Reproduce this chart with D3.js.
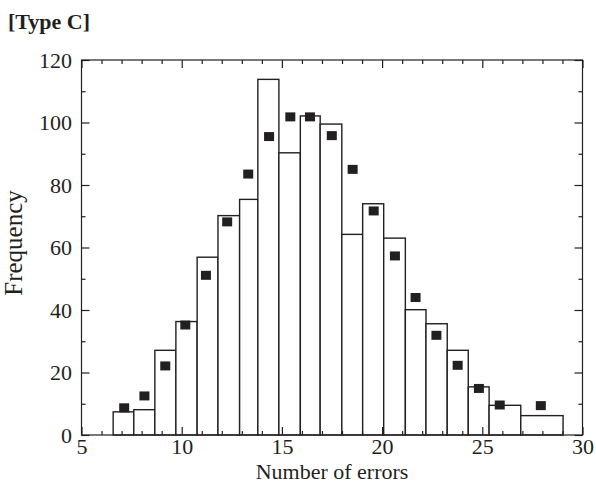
<!DOCTYPE html>
<html>
<head>
<meta charset="utf-8">
<script src="https://cdn.jsdelivr.net/npm/d3@7"></script>
<style>
  body { margin: 0; background: #fff; }
  svg text { font-family: "Liberation Serif", "Times New Roman", serif; fill: #231f20; }
  .axis path { display: none; }
  .axis line { stroke: #231f20; stroke-width: 1.2; }
  .axis text { font-size: 22px; }
</style>
</head>
<body>
<svg id="chart" width="596" height="495"></svg>
<script>
// histogram bin edges (number of errors) and counts
const binEdges = [6.58, 7.61, 8.66, 9.71, 10.77, 11.81, 12.89, 13.80, 14.85, 15.92, 16.91,
                  17.99, 19.03, 20.08, 21.16, 22.19, 23.25, 24.30, 25.34, 26.92, 29.03];
const binCounts = [7.4, 8.1, 27.1, 36.3, 56.9, 70.2, 75.4, 113.8, 90.3, 102.1, 99.5,
                   64.2, 74.0, 63.0, 40.1, 35.6, 27.1, 15.4, 9.5, 6.2];

// filled squares (fitted / expected frequency)
const pointX = [7.13, 8.14, 9.18, 10.18, 11.21, 12.27, 13.32, 14.36, 15.42, 16.40,
                17.49, 18.53, 19.58, 20.64, 21.67, 22.71, 23.77, 24.83, 25.87, 27.92];
const pointY = [8.7, 12.5, 22.1, 35.2, 51.1, 68.2, 83.5, 95.5, 101.8, 101.8,
                95.8, 85.0, 71.7, 57.3, 44.0, 31.9, 22.3, 14.9, 9.6, 9.4];

const xMajor = [5, 10, 15, 20, 25, 30];
const yMajor = [0, 20, 40, 60, 80, 100, 120];

const svg = d3.select("#chart");
const mLeft = 81.5, mRight = 582.5, mTop = 60, mBottom = 435;

const x = d3.scaleLinear().domain([5, 30]).range([mLeft, mRight]);
const y = d3.scaleLinear().domain([0, 120]).range([mBottom, mTop]);

const xMinor = d3.range(5, 31).filter((v) => xMajor.indexOf(v) < 0);
const yMinor = d3.range(10, 120, 20);

// bars
const bins = binCounts.map((c, i) => ({ x0: binEdges[i], x1: binEdges[i + 1], n: c }));
svg.append("g")
  .selectAll("rect")
  .data(bins)
  .enter()
  .append("rect")
  .attr("x", (d) => x(d.x0))
  .attr("y", (d) => y(d.n))
  .attr("width", (d) => x(d.x1) - x(d.x0))
  .attr("height", (d) => y(0) - y(d.n))
  .attr("fill", "#fff")
  .attr("stroke", "#231f20")
  .attr("stroke-width", 1.4);

// squares
const sw = 10, sh = 9;
svg.append("g")
  .selectAll("rect")
  .data(pointX.map((v, i) => [v, pointY[i]]))
  .enter()
  .append("rect")
  .attr("x", (d) => x(d[0]) - sw / 2)
  .attr("y", (d) => y(d[1]) - sh / 2)
  .attr("width", sw)
  .attr("height", sh)
  .attr("fill", "#231f20");

// axes, ticks pointing inward on all four sides
function addAxis(axis, tx, ty) {
  svg.append("g").attr("class", "axis")
    .attr("transform", "translate(" + tx + "," + ty + ")")
    .call(axis);
}
addAxis(d3.axisBottom(x).tickValues(xMajor).tickSizeInner(-8).tickSizeOuter(0).tickPadding(3), 0, mBottom);
addAxis(d3.axisBottom(x).tickValues(xMinor).tickSizeInner(-4).tickSizeOuter(0).tickFormat(""), 0, mBottom);
addAxis(d3.axisTop(x).tickValues(xMajor).tickSizeInner(-8).tickSizeOuter(0).tickFormat(""), 0, mTop);
addAxis(d3.axisTop(x).tickValues(xMinor).tickSizeInner(-4).tickSizeOuter(0).tickFormat(""), 0, mTop);
addAxis(d3.axisLeft(y).tickValues(yMajor).tickSizeInner(-8).tickSizeOuter(0).tickPadding(9.5), mLeft, 0);
addAxis(d3.axisLeft(y).tickValues(yMinor).tickSizeInner(-4).tickSizeOuter(0).tickFormat(""), mLeft, 0);
addAxis(d3.axisRight(y).tickValues(yMajor).tickSizeInner(-8).tickSizeOuter(0).tickFormat(""), mRight, 0);
addAxis(d3.axisRight(y).tickValues(yMinor).tickSizeInner(-4).tickSizeOuter(0).tickFormat(""), mRight, 0);

// frame
svg.append("rect")
  .attr("x", mLeft).attr("y", mTop)
  .attr("width", mRight - mLeft).attr("height", mBottom - mTop)
  .attr("fill", "none")
  .attr("stroke", "#231f20")
  .attr("stroke-width", 1.2);

// titles
svg.append("text")
  .attr("x", 8).attr("y", 29)
  .attr("font-size", 22).attr("font-weight", "bold")
  .text("[Type C]");

svg.append("text")
  .attr("x", 332).attr("y", 479)
  .attr("text-anchor", "middle").attr("font-size", 22)
  .text("Number of errors");

svg.append("text")
  .attr("transform", "translate(22,243) rotate(-90)")
  .attr("text-anchor", "middle").attr("font-size", 25)
  .text("Frequency");
</script>
</body>
</html>
